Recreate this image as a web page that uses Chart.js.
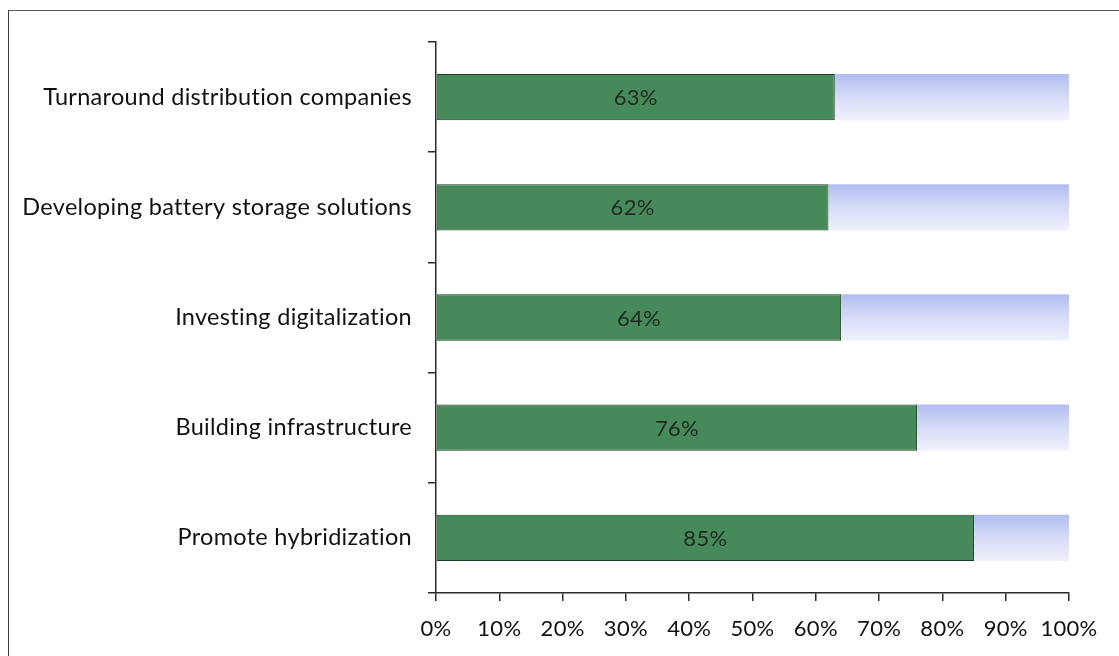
<!DOCTYPE html>
<html>
<head>
<meta charset="utf-8">
<script src="https://cdn.jsdelivr.net/npm/chart.js@4.4.0/dist/chart.umd.min.js"></script>
<style>
	html, body { margin: 0; padding: 0; background: #ffffff; overflow: hidden; }
	#frame { position: absolute; left: 8px; top: 10px; width: 1130px; height: 670px; border-left: 1.5px solid #3a3a3a; border-top: 1.5px solid #5a5a5a; }
	#chart-wrap { position: absolute; left: 0; top: 0; width: 1119px; height: 656px; }
</style>
</head>
<body>
<div id="frame"></div>
<div id="chart-wrap"><canvas id="priority-chart" width="1119" height="656"></canvas></div>
<script>
var priorityLabels = [
	"Turnaround distribution companies",
	"Developing battery storage solutions",
	"Investing digitalization",
	"Building infrastructure",
	"Promote hybridization"
];
var agreeShare = [63, 62, 64, 76, 85];
var restShare = [37, 38, 36, 24, 15];

var labelFont = "Lato, 'Open Sans', sans-serif";

// fades each remainder bar from pale blue at the top to near white at the bottom
function restGradient(context) {
	var chart = context.chart;
	var yScale = chart.scales.y;
	if(!chart.chartArea || !yScale || context.dataIndex === undefined)
		return "#c8d0f4";
	var center = yScale.getPixelForValue(context.dataIndex);
	var half = 23;
	var grad = chart.ctx.createLinearGradient(0, center - half, 0, center + half);
	grad.addColorStop(0, "#b1bdf0");
	grad.addColorStop(0.5, "#d6dcf7");
	grad.addColorStop(1, "#f0f1fb");
	return grad;
}

// a tiny letter spacing keeps Lato from joining "ti" into a ligature
var noLigatures = {
	id: "noLigatures",
	beforeDraw: function(chart) {
		if("letterSpacing" in chart.ctx)
			chart.ctx.letterSpacing = "0.3px";
	}
};

var barValueLabels = {
	id: "barValueLabels",
	afterDatasetsDraw: function(chart) {
		var ctx = chart.ctx;
		var meta = chart.getDatasetMeta(0);
		ctx.save();
		ctx.font = "22px " + labelFont;
		ctx.fillStyle = "#1f2a22";
		ctx.textAlign = "center";
		ctx.textBaseline = "middle";
		meta.data.forEach(function(bar, i) {
			var mid = (bar.x + bar.base) / 2;
			ctx.fillText(agreeShare[i] + "%", mid, bar.y + 1);
		});
		ctx.restore();
	}
};

window.onload = function() {
	new Chart(document.getElementById("priority-chart"), {
		type: "bar",
		data: {
			labels: priorityLabels,
			datasets: [{
				data: agreeShare,
				backgroundColor: "#478a59",
				borderColor: "#1d3d25",
				borderWidth: 1,
				borderSkipped: false,
				barPercentage: 0.42,
				categoryPercentage: 1
			}, {
				data: restShare,
				backgroundColor: restGradient,
				borderWidth: 0,
				barPercentage: 0.42,
				categoryPercentage: 1
			}]
		},
		options: {
			indexAxis: "y",
			responsive: false,
			animation: false,
			layout: { padding: { left: 0, top: 42, right: 50, bottom: 0 } },
			plugins: {
				legend: { display: false },
				tooltip: { enabled: false }
			},
			scales: {
				x: {
					stacked: true,
					min: 0,
					max: 100,
					ticks: {
						stepSize: 10,
						padding: 15,
						color: "#111111",
						font: { family: labelFont, size: 22 },
						callback: function(v) { return v + "%"; }
					},
					grid: { drawOnChartArea: false, tickLength: 8, color: "#2a2a2a", lineWidth: 1.5 },
					border: { color: "#2a2a2a", width: 1.5 },
					afterFit: function(scale) { scale.height = 63; }
				},
				y: {
					stacked: true,
					ticks: {
						padding: 16,
						color: "#111111",
						font: { family: labelFont, size: 23.5 }
					},
					grid: { drawOnChartArea: false, tickLength: 8, color: "#2a2a2a", lineWidth: 1.5 },
					border: { color: "#2a2a2a", width: 1.5 },
					afterFit: function(scale) { scale.width = 436; }
				}
			}
		},
		plugins: [noLigatures, barValueLabels]
	});
};
</script>
</body>
</html>
